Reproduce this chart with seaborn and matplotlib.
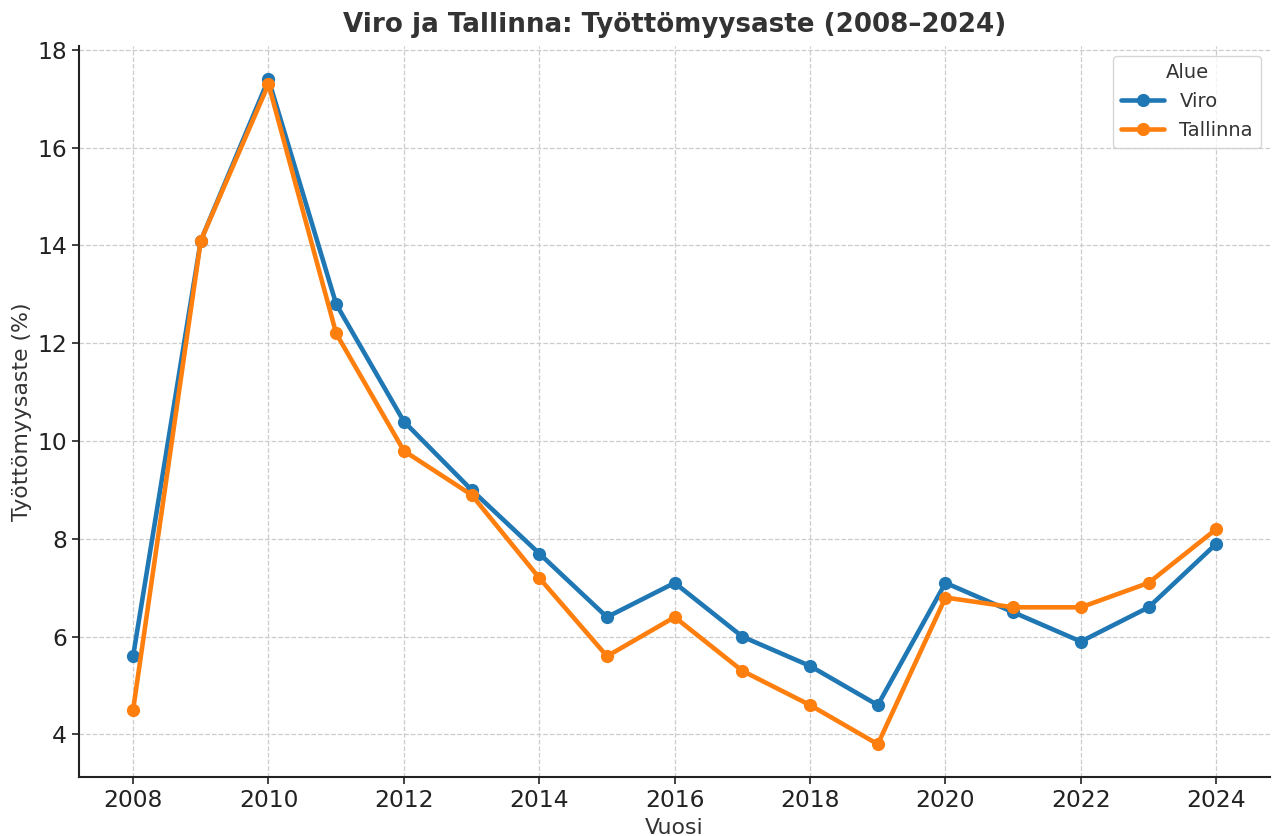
import matplotlib
matplotlib.use("Agg")
import matplotlib.pyplot as plt
import seaborn as sns
import pandas as pd

years = list(range(2008, 2025))
viro = [5.6, 14.1, 17.4, 12.8, 10.4, 9.0, 7.7, 6.4, 7.1, 6.0, 5.4, 4.6, 7.1, 6.5, 5.9, 6.6, 7.9]
tallinna = [4.5, 14.1, 17.3, 12.2, 9.8, 8.9, 7.2, 5.6, 6.4, 5.3, 4.6, 3.8, 6.8, 6.6, 6.6, 7.1, 8.2]

df = pd.concat([
    pd.DataFrame({"Vuosi": years, "Työttömyysaste": viro, "Alue": "Viro"}),
    pd.DataFrame({"Vuosi": years, "Työttömyysaste": tallinna, "Alue": "Tallinna"}),
])

sns.set_style("ticks")
plt.rcParams["font.family"] = ["DejaVu Sans"]
plt.rcParams["text.color"] = "#333333"
plt.rcParams["axes.labelcolor"] = "#333333"
plt.rcParams["xtick.color"] = "#222222"
plt.rcParams["ytick.color"] = "#222222"

fig, ax = plt.subplots(figsize=(12.73, 8.36), dpi=100)
sns.lineplot(data=df, x="Vuosi", y="Työttömyysaste", hue="Alue",
             palette=["#1f77b4", "#ff7f0e"], marker="o", markersize=9.5,
             markeredgewidth=0, linewidth=3.3, ax=ax)

ax.grid(True, linestyle="--", color="#cccccc", linewidth=0.9)
ax.set_xticks(range(2008, 2025, 2))
ax.set_yticks(range(4, 19, 2))
ax.tick_params(axis="both", labelsize=16.8, length=5, width=1.2)
for s in ["top", "right"]:
    ax.spines[s].set_visible(False)
for s in ["left", "bottom"]:
    ax.spines[s].set_linewidth(1.5)
    ax.spines[s].set_color("#222222")

ax.set_title("Viro ja Tallinna: Työttömyysaste (2008–2024)", fontsize=18.8,
             fontweight="bold", pad=10)
ax.set_xlabel("Vuosi", fontsize=15.8, labelpad=4)
ax.set_ylabel("Työttömyysaste (%)", fontsize=15.8)

leg = ax.legend(title="Alue", fontsize=14, title_fontsize=14, loc="upper right",
                frameon=True, handlelength=2.2)
leg.get_frame().set_edgecolor("#cccccc")

fig.subplots_adjust(left=0.062, right=0.998, top=0.945, bottom=0.07)
fig.savefig("out.png", dpi=100)
